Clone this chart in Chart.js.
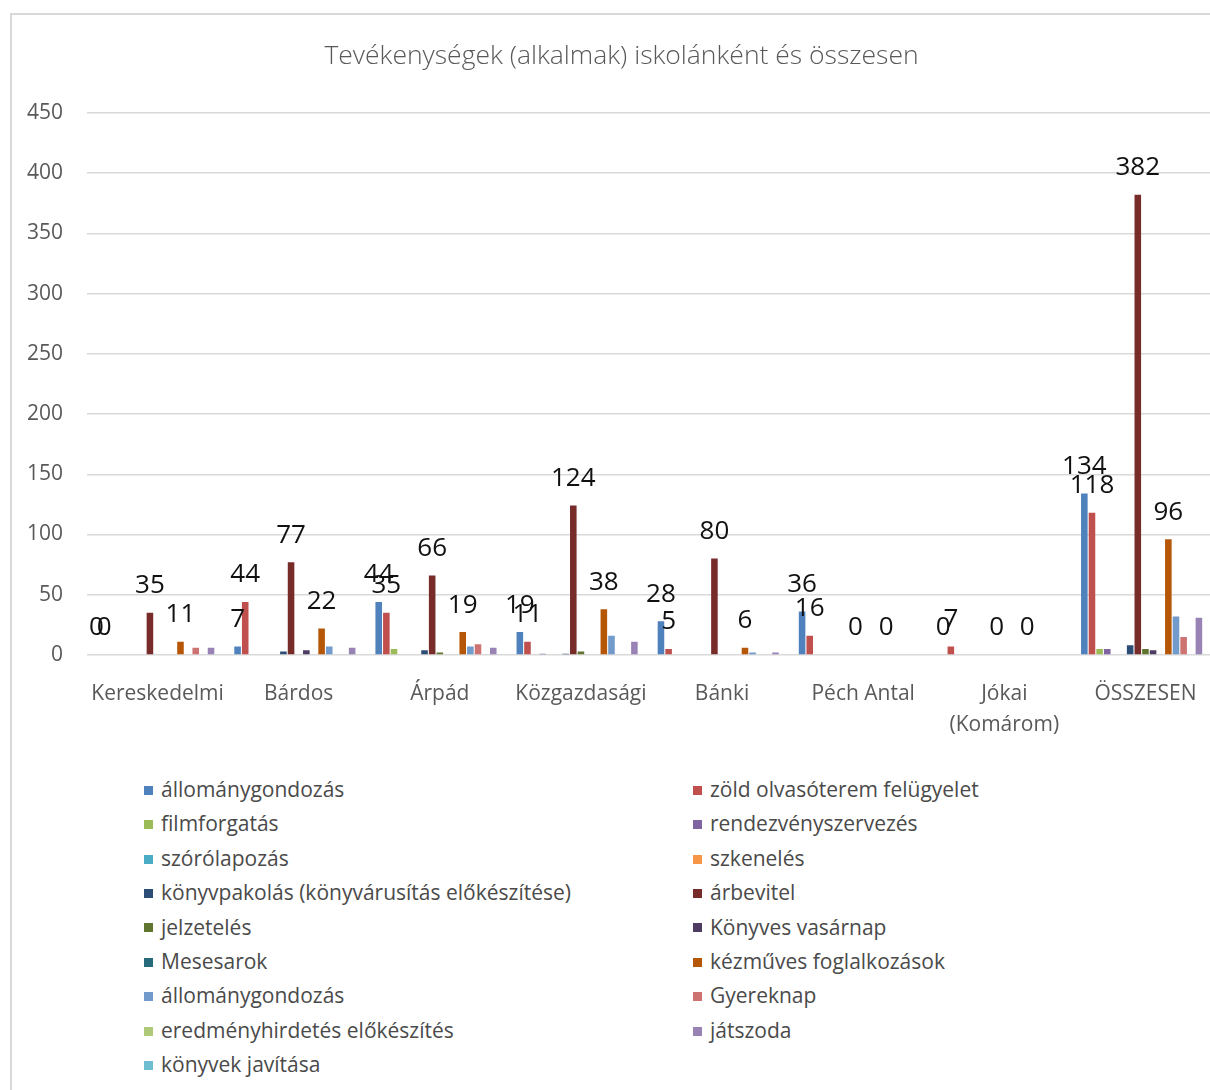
<!DOCTYPE html>
<html>
<head>
<meta charset="utf-8">
<script src="https://cdn.jsdelivr.net/npm/chart.js@4/dist/chart.umd.min.js"></script>
<style>
  html, body { margin: 0; padding: 0; background: #fff; overflow: hidden; }
  body { width: 1210px; height: 1090px; position: relative; font-family: "Open Sans", sans-serif; }
  #frame { position: absolute; left: 10px; top: 13px; width: 1220px; height: 1100px; border: 2px solid #d9d9d9; box-sizing: border-box; }
  #wrap { position: absolute; left: 0; top: 0; width: 1230px; height: 745px; }
  #legend { position: absolute; left: 0; top: 772px; width: 1210px; }
  .item { position: absolute; height: 34px; line-height: 34px; font-size: 21px; color: #4a4a4a; white-space: nowrap; }
  .item i { display: inline-block; width: 9px; height: 9px; margin-right: 8px; vertical-align: middle; position: relative; top: -1px; }
</style>
</head>
<body>
<div id="frame"></div>
<div id="wrap"><canvas id="chart"></canvas></div>
<div id="legend"></div>
<script>
const categories = ["Kereskedelmi", "Bárdos", "Árpád", "Közgazdasági", "Bánki", "Péch Antal", ["Jókai", "(Komárom)"], "ÖSSZESEN"];

const seriesNames = [
  "állománygondozás", "zöld olvasóterem felügyelet", "filmforgatás", "rendezvényszervezés",
  "szórólapozás", "szkenelés", "könyvpakolás (könyvárusítás előkészítése)", "árbevitel",
  "jelzetelés", "Könyves vasárnap", "Mesesarok", "kézműves foglalkozások",
  "állománygondozás", "Gyereknap", "eredményhirdetés előkészítés", "játszoda", "könyvek javítása"
];

const seriesColors = [
  "#4f81bd", "#c0504d", "#9bbb59", "#8064a2", "#4bacc6", "#f79646",
  "#2c4d75", "#772c2a", "#5f7530", "#4d3b62", "#276a7c", "#b65708",
  "#729aca", "#cd7371", "#afc97a", "#9983b5", "#6fbdd1"
];

// values per series, one per category
const allomanygondozas = [0, 7, 44, 19, 28, 36, 0, 134];
const zoldOlvaso = [0, 44, 35, 11, 5, 16, 7, 118];
const filmforgatas = [0, 0, 5, 0, 0, 0, 0, 5];
const rendezveny = [0, 0, 0, 1, 0, 0, 0, 5];
const szorolap = [0, 0, 0, 0, 0, 0, 0, 0];
const szkeneles = [0, 0, 0, 0, 0, 0, 0, 0];
const konyvpakolas = [0, 3, 4, 1, 0, 0, 0, 8];
const arbevitel = [35, 77, 66, 124, 80, 0, 0, 382];
const jelzeteles = [0, 0, 2, 3, 0, 0, 0, 5];
const konyvesVasarnap = [0, 4, 0, 0, 0, 0, 0, 4];
const mesesarok = [0, 0, 0, 0, 0, 0, 0, 0];
const kezmuves = [11, 22, 19, 38, 6, 0, 0, 96];
const allomanygondozas2 = [0, 7, 7, 16, 2, 0, 0, 32];
const gyereknap = [6, 0, 9, 0, 0, 0, 0, 15];
const eredmenyhirdetes = [0, 0, 0, 0, 0, 0, 0, 0];
const jatszoda = [6, 6, 6, 11, 2, 0, 0, 31];
const konyvekJavitasa = [0, 0, 0, 0, 0, 0, 0, 0];

const seriesValues = [
  allomanygondozas, zoldOlvaso, filmforgatas, rendezveny, szorolap, szkeneles,
  konyvpakolas, arbevitel, jelzeteles, konyvesVasarnap, mesesarok, kezmuves,
  allomanygondozas2, gyereknap, eredmenyhirdetes, jatszoda, konyvekJavitasa
];

// series that carry data labels in the original
const labelledSeries = [0, 1, 7, 11];

const yTicks = [0, 50, 100, 150, 200, 250, 300, 350, 400, 450];

const barLabels = {
  id: "barLabels",
  afterDatasetsDraw(chart) {
    const ctx = chart.ctx;
    ctx.save();
    ctx.font = "26px 'Open Sans'";
    ctx.fillStyle = "#111";
    ctx.textAlign = "center";
    ctx.textBaseline = "middle";
    labelledSeries.forEach(i => {
      const meta = chart.getDatasetMeta(i);
      meta.data.forEach((bar, j) => {
        ctx.fillText(String(chart.data.datasets[i].data[j]), bar.x, bar.y - 27);
      });
    });
    ctx.restore();
  }
};

const ctx = document.getElementById("chart").getContext("2d");
new Chart(ctx, {
  type: "bar",
  data: {
    labels: categories,
    datasets: seriesNames.map((name, i) => ({
      label: name,
      data: seriesValues[i],
      backgroundColor: seriesColors[i],
      borderWidth: 0,
      categoryPercentage: 0.92,
      barPercentage: 0.86
    }))
  },
  options: {
    responsive: true,
    maintainAspectRatio: false,
    animation: false,
    layout: { padding: { left: 27, right: 14, top: 0, bottom: 10 } },
    plugins: {
      legend: { display: false },
      tooltip: { enabled: false },
      title: {
        display: true,
        text: "Tevékenységek (alkalmak) iskolánként és összesen",
        color: "#595959",
        font: { family: "'Open Sans'", size: 26.5, weight: "300" },
        padding: { top: 41, bottom: 40 }
      }
    },
    scales: {
      x: {
        grid: { display: false, drawTicks: false },
        border: { display: false },
        afterFit(scale) { scale.height = 80; },
        ticks: {
          color: "#595959",
          font: { family: "'Open Sans'", size: 21, lineHeight: 1.45 },
          padding: 24,
          maxRotation: 0,
          autoSkip: false
        }
      },
      y: {
        min: 0,
        max: 450,
        afterBuildTicks(scale) { scale.ticks = yTicks.map(v => ({ value: v })); },
        afterFit(scale) { scale.width = 60; },
        grid: { color: "#d9d9d9", lineWidth: 1.5, drawTicks: false },
        border: { display: false },
        ticks: {
          color: "#595959",
          font: { family: "'Open Sans'", size: 21 },
          padding: 24
        }
      }
    }
  },
  plugins: [barLabels]
});

// two-column legend, filled row by row
const legend = document.getElementById("legend");
seriesNames.forEach((name, i) => {
  const row = Math.floor(i / 2);
  const col = i % 2;
  const el = document.createElement("div");
  el.className = "item";
  el.style.left = (col === 0 ? 144 : 693) + "px";
  el.style.top = (row * 34.4) + "px";
  el.innerHTML = '<i style="background:' + seriesColors[i] + '"></i>' + name;
  legend.appendChild(el);
});
</script>
</body>
</html>
